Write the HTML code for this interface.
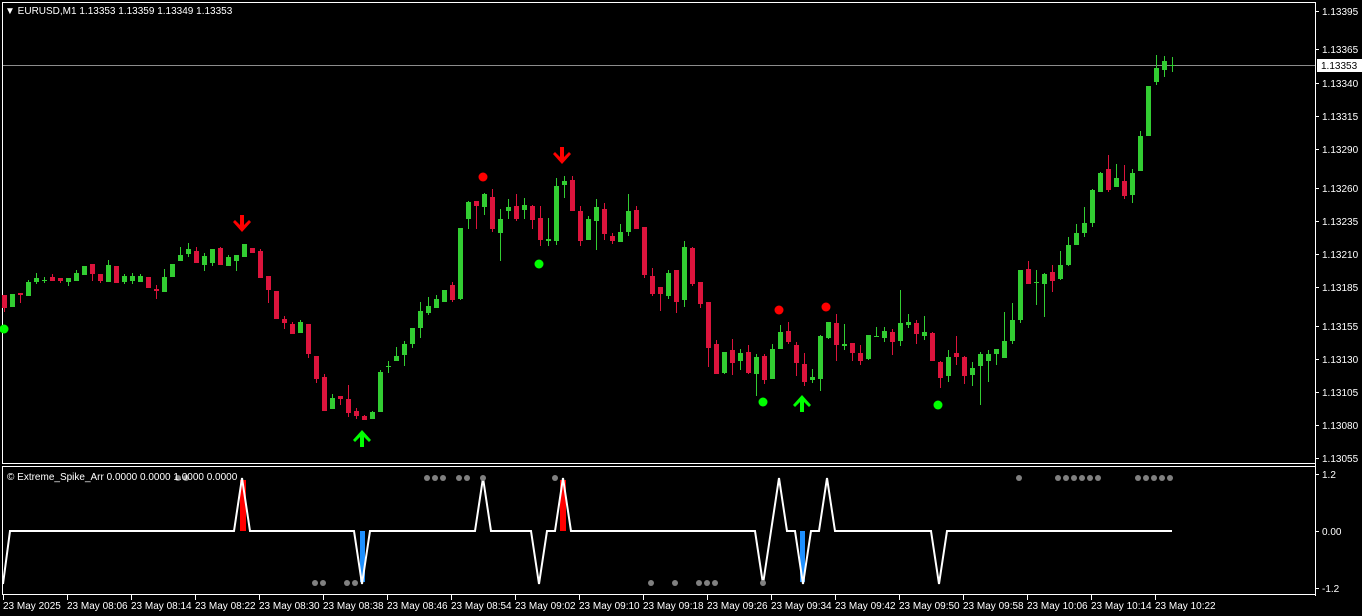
<!DOCTYPE html>
<html><head><meta charset="utf-8"><style>
html,body{margin:0;padding:0;background:#000;width:1362px;height:616px;overflow:hidden}
svg{display:block}
text{font-family:"Liberation Sans",sans-serif;fill:#fff}
</style></head><body>
<svg id="s" width="1362" height="616" xmlns="http://www.w3.org/2000/svg">
<rect width="1362" height="616" fill="#000"/>
<line x1="2.5" y1="2" x2="2.5" y2="463" stroke="#fff"/>
<line x1="2" y1="2.5" x2="1315" y2="2.5" stroke="#fff"/>
<line x1="1315.5" y1="2" x2="1315.5" y2="596" stroke="#fff"/>
<line x1="2" y1="463.5" x2="1315" y2="463.5" stroke="#fff"/>
<line x1="2" y1="466.5" x2="1315" y2="466.5" stroke="#fff"/>
<line x1="2.5" y1="466" x2="2.5" y2="595" stroke="#fff"/>
<line x1="2" y1="594.5" x2="1315" y2="594.5" stroke="#fff"/>
<line x1="3" y1="65.5" x2="1315" y2="65.5" stroke="#8c8c8c"/>
<g id="c"></g>
<g id="ax" font-size="10"></g>
<text x="5" y="14" font-size="10">▼ EURUSD,M1  1.13353 1.13359 1.13349 1.13353</text>
<text x="7" y="480" font-size="10">© Extreme_Spike_Arr 0.0000 0.0000 1.0000 0.0000</text>
</svg>
<script>
var D=[[295,308,295,312,0],[294,307,294,307,1],[293,295,293,303,0],[282,296,280,296,1],[278,282,273,284,1],[280,281,277,283,1],[277,281,274,281,0],[278,281,278,283,0],[278,282,278,286,1],[273,281,270,281,1],[266,275,266,275,1],[264,274,264,281,0],[274,281,274,283,0],[265,282,260,282,1],[266,283,266,283,0],[276,282,274,284,1],[276,281,273,284,1],[276,282,274,282,1],[277,288,277,288,0],[289,291,285,299,0],[277,292,269,292,1],[264,277,264,277,1],[255,261,247,261,1],[249,254,243,257,1],[251,263,247,263,0],[256,265,253,271,1],[249,263,249,266,1],[248,265,247,265,0],[257,266,255,266,1],[255,261,255,271,1],[244,257,244,257,1],[248,253,248,253,0],[251,278,249,278,0],[276,290,276,303,0],[291,319,291,319,0],[319,323,316,329,0],[324,334,322,334,0],[322,333,320,333,1],[324,354,324,358,0],[356,379,356,383,0],[377,411,374,411,0],[398,409,394,409,1],[396,399,396,405,0],[399,413,385,417,0],[411,416,408,419,0],[416,420,415,420,0],[412,419,411,419,1],[372,412,370,412,1],[366,367,361,373,1],[356,361,347,361,1],
[344,355,341,366,1],[328,344,328,348,1],[311,328,302,338,1],[306,313,297,315,1],[299,308,295,308,1],[290,302,290,302,1],[285,300,282,302,0],[228,299,228,300,1],[202,219,201,229,1],[201,206,201,229,0],[194,207,193,215,1],[197,229,189,232,0],[219,233,209,261,1],[207,211,199,219,1],[206,219,194,221,0],[205,210,198,219,1],[206,220,205,229,0],[218,240,206,246,0],[239,241,218,246,1],[186,241,178,245,1],[181,185,176,198,1],[180,211,176,211,0],[211,241,206,246,0],[219,240,216,240,1],[207,221,199,250,1],[209,234,203,240,0],[236,241,233,244,0],[232,242,224,242,1],[211,232,194,236,1],[210,229,206,229,0],[227,275,227,278,0],[276,294,268,296,0],[287,294,287,311,0],[273,296,270,299,1],[270,302,270,313,0],[247,300,241,307,1],[248,284,247,286,0],[282,304,282,308,0],[302,348,302,367,0],[344,374,340,374,0],[352,373,352,374,1],[350,363,339,375,0],[353,361,349,370,1],[352,373,345,374,0],[357,374,354,396,1],[356,380,354,384,0],[349,379,344,379,1],[332,349,325,349,1],[331,342,322,344,0],[345,363,342,376,0],
[364,382,353,386,0],[377,380,369,383,1],[336,379,335,391,1],[322,338,322,339,1],[323,345,314,361,0],[344,346,324,350,1],[343,353,343,361,0],[353,361,345,365,0],[335,359,335,360,1],[336,337,327,337,1],[331,338,327,342,1],[332,342,329,355,0],[323,341,290,346,1],[322,325,314,328,1],[323,334,320,344,0],[332,336,316,340,1],[333,361,332,361,0],[362,378,361,388,0],[357,376,350,382,1],[353,357,336,365,0],[357,376,356,384,0],[368,375,362,386,1],[354,366,352,405,1],[354,361,350,382,1],[349,354,349,365,1],[341,358,312,358,1],[320,341,303,344,1],[270,320,270,323,1],[269,284,261,284,0],[282,283,270,305,1],[274,284,273,317,1],[272,281,265,292,0],[265,279,251,280,1],[245,265,237,266,1],[233,245,224,245,1],[223,233,207,237,1],[190,223,189,227,1],[173,192,172,192,1],[169,190,155,192,0],[178,187,164,187,1],[181,196,165,199,0],[173,195,169,203,1],[136,171,131,171,1],[86,136,86,136,1],[68,82,55,85,1],[61,70,56,77,1],[65,66,57,72,1]];
var h='';
D.forEach(function(d,i){var x=4+8*i,col=d[4]?'#32CD32':'#DC143C';
h+='<rect x="'+x+'" y="'+d[2]+'" width="1" height="'+Math.max(1,d[3]-d[2])+'" fill="'+col+'"/>';
h+='<rect x="'+(x-2)+'" y="'+d[0]+'" width="5" height="'+Math.max(1,d[1]-d[0])+'" fill="'+col+'"/>';});
function dn(x,y){return '<polygon fill="#f00" points="'+(x-2)+','+y+' '+(x+2)+','+y+' '+(x+2)+','+(y+10)+' '+(x+7)+','+(y+5)+' '+(x+9)+','+(y+7)+' '+x+','+(y+17)+' '+(x-9)+','+(y+7)+' '+(x-7)+','+(y+5)+' '+(x-2)+','+(y+10)+'"/>';}
function up(x,y){return '<polygon fill="#0f0" points="'+(x-2)+','+y+' '+(x+2)+','+y+' '+(x+2)+','+(y-10)+' '+(x+7)+','+(y-5)+' '+(x+9)+','+(y-7)+' '+x+','+(y-17)+' '+(x-9)+','+(y-7)+' '+(x-7)+','+(y-5)+' '+(x-2)+','+(y-10)+'"/>';}
h+=dn(242,215)+dn(562,147)+up(362,447)+up(802,412);
[[483,177],[779,310],[826,307]].forEach(function(p){h+='<circle cx="'+p[0]+'" cy="'+p[1]+'" r="4.5" fill="#f00"/>';});
[[4,329],[539,264],[763,402],[938,405]].forEach(function(p){h+='<circle cx="'+p[0]+'" cy="'+p[1]+'" r="4.5" fill="#0f0"/>';});
// indicator
h+='<rect x="240" y="480" width="6" height="51" fill="#f00"/><rect x="560" y="480" width="6" height="51" fill="#f00"/>';
h+='<rect x="360" y="531" width="5" height="51" fill="#1e90ff"/><rect x="800" y="531" width="5" height="51" fill="#1e90ff"/>';
var B=531,T=478,L=584,pts=[[3,L],[10,B]];
[[242,1],[362,0],[483,1],[539,0],[563,1],[763,0],[779,1],[803,0],[827,1],[939,0]].forEach(function(s){pts.push([s[0]-8,B],[s[0],s[1]?T:L],[s[0]+8,B]);});
pts.push([1172,B]);
h+='<polyline fill="none" stroke="#fff" stroke-width="2" points="'+pts.map(function(p){return p.join(',')}).join(' ')+'"/>';
[178,186,427,435,443,459,467,483,555,1019,1058,1066,1074,1082,1090,1098,1138,1146,1154,1162,1170].forEach(function(x){h+='<circle cx="'+x+'" cy="478" r="3" fill="#808080"/>';});
[315,323,347,355,651,675,699,707,715,763].forEach(function(x){h+='<circle cx="'+x+'" cy="583" r="3" fill="#808080"/>';});
document.getElementById('c').innerHTML=h;
var a='';
[['1.13395',11],['1.13365',49],['1.13340',83],['1.13315',116],['1.13290',149],['1.13260',188],['1.13235',221],['1.13210',254],['1.13185',287],['1.13155',326],['1.13130',359],['1.13105',392],['1.13080',425],['1.13055',458]].forEach(function(p){
a+='<line x1="1315" y1="'+(p[1]+.5)+'" x2="1319" y2="'+(p[1]+.5)+'" stroke="#fff"/><text x="1322" y="'+(p[1]+4)+'">'+p[0]+'</text>';});
a+='<rect x="1317" y="59" width="45" height="13" fill="#fff"/><text x="1321" y="69" style="fill:#000">1.13353</text>';
[['1.2',474],['0.00',531],['-1.2',588]].forEach(function(p){a+='<line x1="1315" y1="'+(p[1]+.5)+'" x2="1319" y2="'+(p[1]+.5)+'" stroke="#fff"/><text x="1322" y="'+(p[1]+4)+'">'+p[0]+'</text>';});
var lb=['23 May 2025','23 May 08:06','23 May 08:14','23 May 08:22','23 May 08:30','23 May 08:38','23 May 08:46','23 May 08:54','23 May 09:02','23 May 09:10','23 May 09:18','23 May 09:26','23 May 09:34','23 May 09:42','23 May 09:50','23 May 09:58','23 May 10:06','23 May 10:14','23 May 10:22'];
lb.forEach(function(t,i){var x=3+64*i;a+='<line x1="'+(x+.5)+'" y1="595" x2="'+(x+.5)+'" y2="600" stroke="#fff"/><text x="'+(x+(i?0:0))+'" y="609">'+t+'</text>';});
document.getElementById('ax').innerHTML=a;
</script>
</body></html>
